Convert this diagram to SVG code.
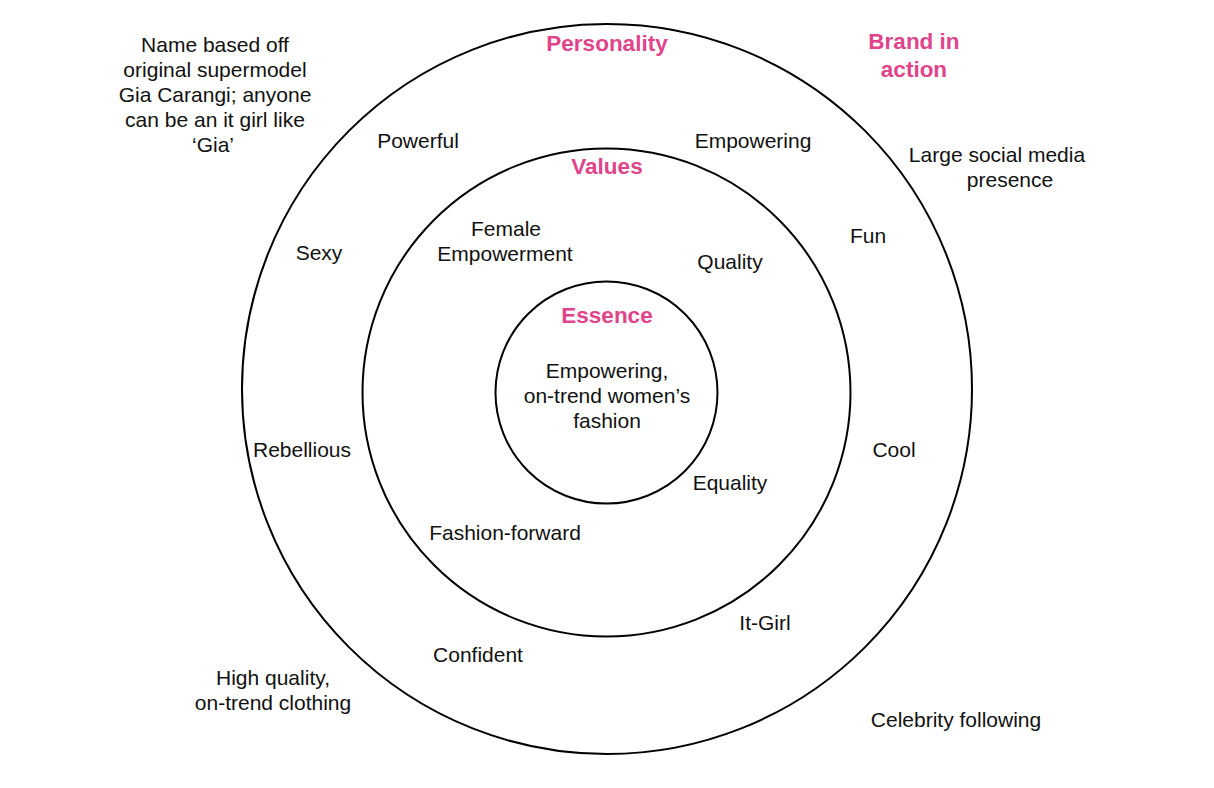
<svg xmlns="http://www.w3.org/2000/svg" width="1214" height="788" viewBox="0 0 1214 788">
<style>
.ring{fill:none;stroke:#000;stroke-width:2}
.t{font-family:"Liberation Sans",Arial,sans-serif;font-size:21px;fill:#111;text-anchor:middle}
.h{font-family:"Liberation Sans",Arial,sans-serif;font-size:22.5px;font-weight:bold;fill:#E0448A;text-anchor:middle}
</style>
<rect width="1214" height="788" fill="#fff"/>
<g id="rings">
<circle id="outer-ring" class="ring" cx="607" cy="389" r="365"/>
<circle id="middle-ring" class="ring" cx="606.5" cy="392.5" r="244"/>
<circle id="inner-ring" class="ring" cx="606.5" cy="392.5" r="111"/>
</g>
<g id="connectors"></g>
<g id="brand-in-action">
<text class="h" x="914" y="49">Brand in</text>
<text class="h" x="914" y="77">action</text>
<text class="t" x="215" y="52">Name based off</text>
<text class="t" x="215" y="77">original supermodel</text>
<text class="t" x="215" y="102">Gia Carangi; anyone</text>
<text class="t" x="215" y="127">can be an it girl like</text>
<text class="t" x="213" y="152">‘Gia’</text>
<text class="t" x="997" y="162">Large social media</text>
<text class="t" x="1010" y="187">presence</text>
<text class="t" x="273" y="685">High quality,</text>
<text class="t" x="273" y="710">on-trend clothing</text>
<text class="t" x="956" y="727">Celebrity following</text>
</g>
<g id="personality">
<text class="h" x="607" y="51">Personality</text>
<text class="t" x="418" y="148">Powerful</text>
<text class="t" x="753" y="148">Empowering</text>
<text class="t" x="319" y="260">Sexy</text>
<text class="t" x="868" y="243">Fun</text>
<text class="t" x="302" y="457">Rebellious</text>
<text class="t" x="894" y="457">Cool</text>
<text class="t" x="765" y="630">It-Girl</text>
<text class="t" x="478" y="662">Confident</text>
</g>
<g id="values">
<text class="h" x="607" y="174">Values</text>
<text class="t" x="506" y="236">Female</text>
<text class="t" x="505" y="261">Empowerment</text>
<text class="t" x="730" y="269">Quality</text>
<text class="t" x="730" y="490">Equality</text>
<text class="t" x="505" y="540">Fashion-forward</text>
</g>
<g id="essence">
<text class="h" x="607" y="323">Essence</text>
<text class="t" x="607" y="378">Empowering,</text>
<text class="t" x="607" y="403">on-trend women’s</text>
<text class="t" x="607" y="428">fashion</text>
</g>
</svg>
